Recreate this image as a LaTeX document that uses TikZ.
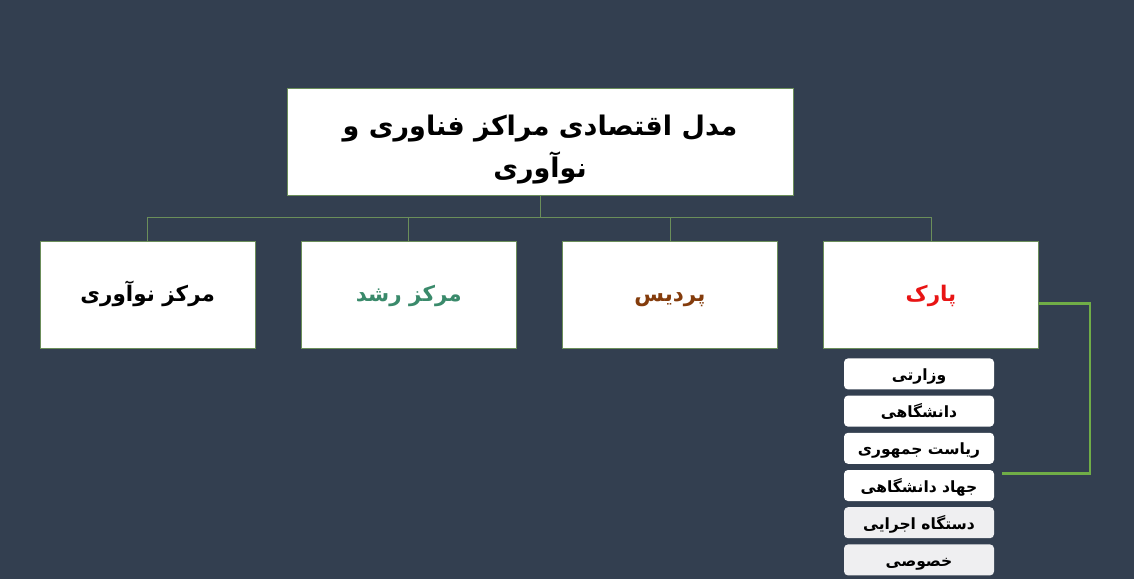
\documentclass[tikz,border=0pt]{standalone}
\usepackage{fontspec}
\newfontfamily\farsi[Script=Arabic]{DejaVu Sans}
\TeXXeTstate=1
\usetikzlibrary{positioning}

\definecolor{slate}{HTML}{333F50}
\definecolor{boxline}{HTML}{6B8E5A}
\definecolor{bracketgreen}{HTML}{70AD47}
\definecolor{roshgreen}{HTML}{3A8A6B}
\definecolor{pardisbrown}{HTML}{843C0C}
\definecolor{parkred}{HTML}{E81414}
\definecolor{lightgrey}{HTML}{EFEFF1}

\tikzset{
    titlebox/.style = {draw = boxline, fill = white, rectangle, minimum width = 506pt, minimum height = 107pt, align = center, font = \farsi\bfseries\fontsize{27}{42}\selectfont},
    centrebox/.style = {draw = boxline, fill = white, rectangle, minimum width = 215pt, minimum height = 107pt, text height = 18pt, text depth = 4pt, font = \farsi\bfseries\fontsize{21.5}{24}\selectfont},
    ownerbox/.style = {fill = white, rectangle, rounded corners = 4pt, minimum width = 150pt, minimum height = 31pt, inner sep = 0pt, text height = 15pt, text depth = 2pt, font = \farsi\bfseries\fontsize{15.5}{17}\selectfont},
    link/.style = {draw = boxline, line width = 0.8pt},
    bracket/.style = {draw = bracketgreen, line width = 2.2pt}
}

\begin{document}
\begin{tikzpicture}[x = 1pt, y = -1pt]
        \fill [slate] (0,0) rectangle (1134,579) ;
        \useasboundingbox (0,0) rectangle (1134,579) ;

        \node [titlebox] (title) at (540,141.5) {\rule{0pt}{36pt}\beginR مدل اقتصادی مراکز فناوری و\endR\\\beginR نوآوری\endR} ;

        \node [centrebox] (park) at (931,294.5) {\color{parkred}\beginR پارک\endR} ;
        \node [centrebox, left = 45.7pt of park] (pardis) {\color{pardisbrown}\beginR پردیس\endR} ;
        \node [centrebox, left = 45.7pt of pardis] (rosh) {\color{roshgreen}\beginR مرکز رشد\endR} ;
        \node [centrebox, left = 45.7pt of rosh] (noavari) {\beginR مرکز نوآوری\endR} ;

        \node [ownerbox, below = 10pt of park, xshift = -12pt] (vezarati) {\beginR وزارتی\endR} ;
        \node [ownerbox, below = 5.8pt of vezarati] (daneshgahi) {\beginR دانشگاهی\endR} ;
        \node [ownerbox, below = 5.8pt of daneshgahi] (riasat) {\beginR ریاست جمهوری\endR} ;
        \node [ownerbox, below = 5.8pt of riasat] (jahad) {\beginR جهاد دانشگاهی\endR} ;
        \node [ownerbox, fill = lightgrey, below = 5.8pt of jahad] (ejrayi) {\beginR دستگاه اجرایی\endR} ;
        \node [ownerbox, fill = lightgrey, below = 5.8pt of ejrayi] (khosusi) {\beginR خصوصی\endR} ;

        % tree links
        \coordinate (bus) at (540,217) ;
        \draw [link] (title.south) -- (bus) ;
        \foreach \b in {noavari, rosh, pardis, park}
            \draw [link] (bus) -| (\b.north) ;

        % bracket from park to its owners
        \coordinate (brkend) at ([xshift = 8pt, yshift = 12pt]jahad.east) ;
        \draw [bracket] ([yshift = -9pt]park.east) -- ++(51pt,0) |- (brkend) ;
\end{tikzpicture}
\end{document}
